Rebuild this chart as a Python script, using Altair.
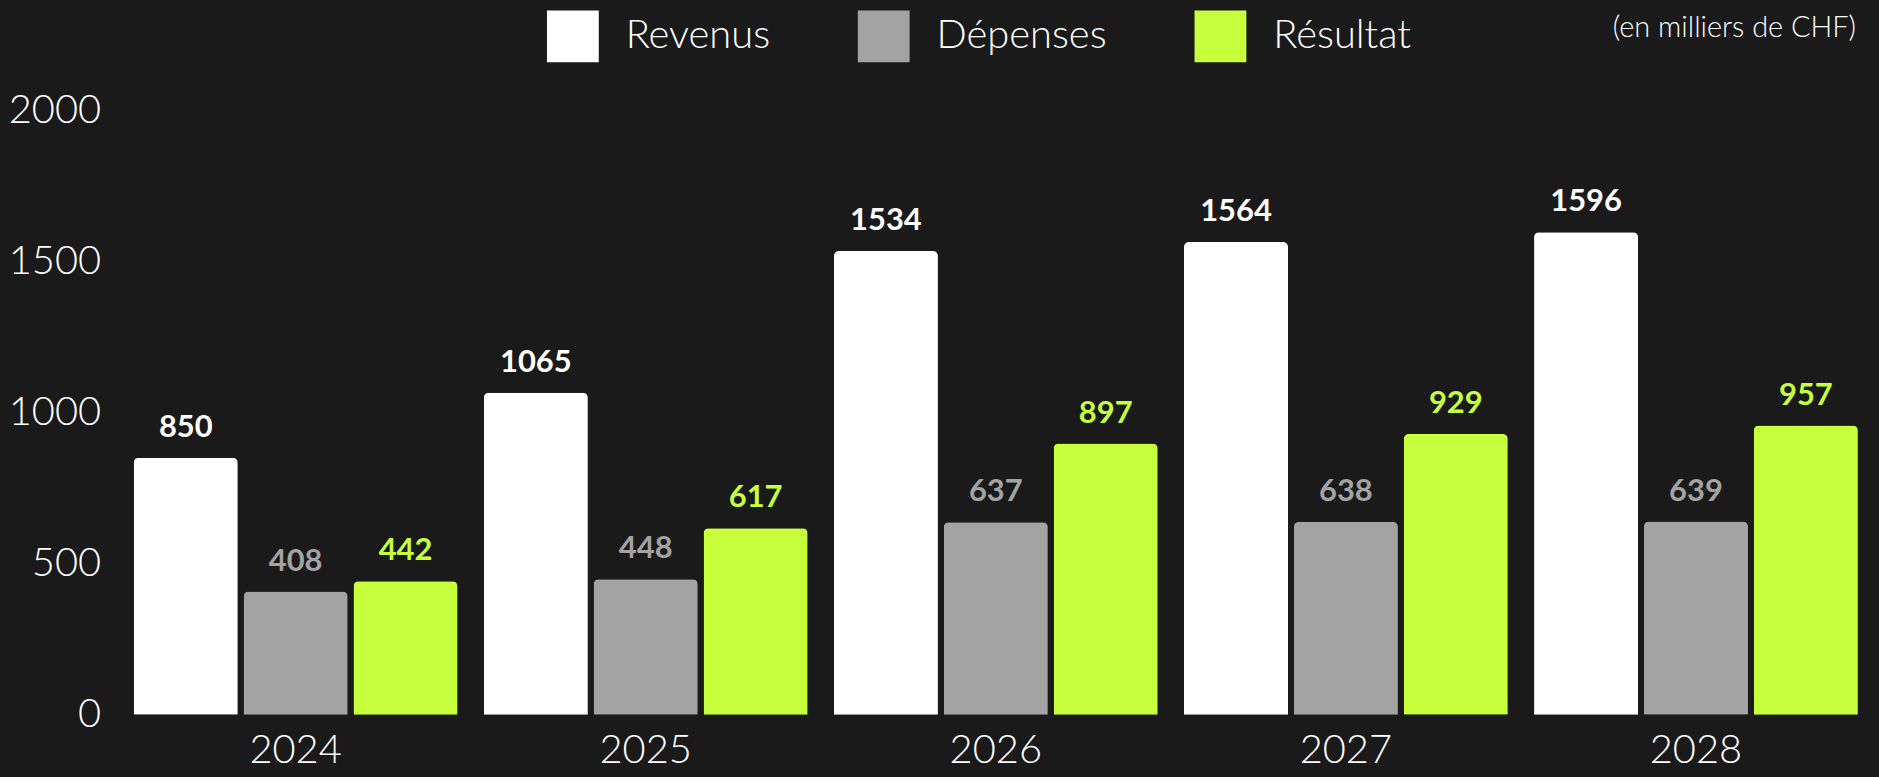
import altair as alt
import pandas as pd

years = ["2024", "2025", "2026", "2027", "2028"]
series = ["Revenus", "Dépenses", "Résultat"]
revenus = [850, 1065, 1534, 1564, 1596]
depenses = [408, 448, 637, 638, 639]
resultat = [442, 617, 897, 929, 957]
colors = ["#ffffff", "#a3a3a3", "#c8ff3c"]
y_ticks = [0, 500, 1000, 1500, 2000]

rows = []
for name, vals in zip(series, [revenus, depenses, resultat]):
    for yr, v in zip(years, vals):
        rows.append({"year": yr, "series": name, "value": v})
df = pd.DataFrame(rows)

FONT = "Lato"
BG = "#1a1a1a"

color_scale = alt.Scale(domain=series, range=colors)

base = alt.Chart(df).encode(
    x=alt.X("year:N", title=None, sort=years,
            scale=alt.Scale(paddingInner=0.075, paddingOuter=0.0375),
            axis=alt.Axis(labelAngle=0, domain=False, ticks=False, labelFontSize=40,
                          labelFont=FONT, labelFontWeight=300, labelColor="#ffffff",
                          labelPadding=16)),
    xOffset=alt.XOffset("series:N", sort=series,
                        scale=alt.Scale(paddingInner=0.053, paddingOuter=0)),
    y=alt.Y("value:Q", title=None,
            scale=alt.Scale(domain=[0, 2000], nice=False),
            axis=alt.Axis(values=y_ticks, format="d", grid=False, domain=False, ticks=False,
                          labelFontSize=40, labelFont=FONT, labelFontWeight=300,
                          labelColor="#ffffff", labelPadding=20)),
)

bars = base.mark_bar(cornerRadiusTopLeft=5, cornerRadiusTopRight=5).encode(
    color=alt.Color("series:N", scale=color_scale, sort=series, title=None,
                    legend=alt.Legend(orient="none", direction="horizontal",
                                      legendX=428, legendY=-100, padding=0,
                                      symbolType="square", symbolSize=2704,
                                      symbolStrokeWidth=0, symbolOpacity=1,
                                      labelFont=FONT, labelFontSize=40,
                                      labelFontWeight=300, labelColor="#ffffff",
                                      labelOffset=27, columnPadding=88,
                                      labelLimit=400))
)

labels = base.mark_text(font=FONT, fontSize=31, fontWeight="bold",
                        baseline="middle", dy=-30).encode(
    text=alt.Text("value:Q"),
    color=alt.Color("series:N", scale=color_scale, sort=series, legend=None),
)

chart = alt.layer(bars, labels).properties(
    width=1757,
    height=607,
    background=BG,
    autosize=alt.AutoSizeParams(type="none"),
    padding={"left": 113, "top": 101, "right": 0, "bottom": 60},
    title=alt.TitleParams("(en milliers de CHF)", anchor="end", orient="top",
                          frame="group", font=FONT, fontSize=29,
                          fontWeight=300, color="#ffffff", offset=-33, dx=-15),
).configure_view(stroke=None)

chart.save("out.html", embed_options={"renderer": "svg", "actions": False})

with open("out.html", encoding="utf-8") as f:
    html = f.read()
html = html.replace("<head>", "<head><style>html,body{background:%s;}</style>" % BG, 1)
with open("out.html", "w", encoding="utf-8") as f:
    f.write(html)
